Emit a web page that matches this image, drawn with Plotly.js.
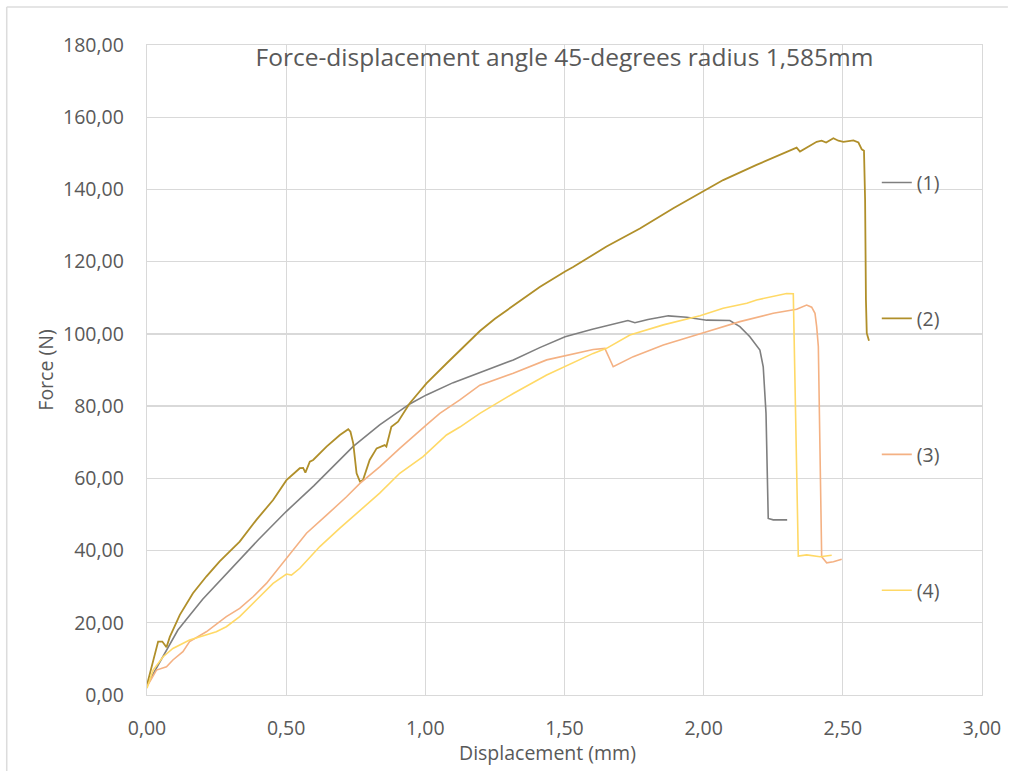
<!DOCTYPE html>
<html>
<head>
<meta charset="utf-8">
<script src="https://cdn.plot.ly/plotly-3.0.1.min.js"></script>
<style>html,body{margin:0;padding:0;background:#fff;}#chart{width:1009px;height:771px;}</style>
</head>
<body>
<div id="chart"></div>
<script>
// ---- data ----
const seriesNames = ["(1)", "(2)", "(3)", "(4)"];

const x1 = [0, 0.05, 0.111, 0.2, 0.3, 0.4, 0.5, 0.6, 0.74, 0.836, 0.944, 1.004, 1.1, 1.196, 1.316, 1.411, 1.502, 1.6, 1.728, 1.753, 1.8, 1.873, 1.939, 2.011, 2.094, 2.13, 2.166, 2.202, 2.214, 2.224, 2.229, 2.232, 2.25, 2.30];
const y1 = [2.8, 9.6, 18.0, 26.5, 34.8, 43.0, 50.8, 58.0, 68.8, 74.8, 80.6, 83.1, 86.5, 89.3, 92.8, 96.2, 99.2, 101.3, 103.7, 103.1, 104.0, 105.0, 104.6, 103.8, 103.7, 102.0, 99.2, 95.5, 90.9, 78.0, 59.5, 48.9, 48.5, 48.5];

const x2 = [0, 0.04, 0.055, 0.07, 0.082, 0.118, 0.165, 0.213, 0.261, 0.333, 0.393, 0.453, 0.501, 0.549, 0.561, 0.569, 0.585, 0.597, 0.645, 0.693, 0.723, 0.731, 0.741, 0.753, 0.765, 0.776, 0.8, 0.825, 0.854, 0.86, 0.878, 0.902, 0.944, 1.004, 1.076, 1.14, 1.196, 1.25, 1.316, 1.411, 1.502, 1.531, 1.651, 1.771, 1.891, 1.999, 2.07, 2.19, 2.334, 2.346, 2.406, 2.424, 2.44, 2.466, 2.484, 2.502, 2.538, 2.556, 2.568, 2.576, 2.58, 2.583, 2.586, 2.594];
const y2 = [2.8, 14.8, 14.8, 13.2, 16.1, 22.2, 28.2, 32.8, 37.0, 42.5, 48.5, 54.0, 59.5, 62.8, 62.9, 61.6, 64.6, 65.1, 68.8, 72.0, 73.6, 72.9, 69.7, 61.4, 59.1, 59.5, 65.1, 68.3, 69.2, 68.8, 74.3, 75.7, 80.8, 86.3, 91.8, 96.6, 100.8, 104.2, 107.9, 113.0, 117.3, 118.5, 124.2, 129.2, 134.8, 139.4, 142.6, 146.8, 151.6, 150.5, 153.2, 153.5, 153.0, 154.2, 153.5, 153.2, 153.6, 153.0, 151.1, 150.7, 137.1, 109.4, 100.2, 98.1];

const x3 = [0, 0.034, 0.07, 0.093, 0.129, 0.153, 0.213, 0.285, 0.333, 0.381, 0.429, 0.501, 0.573, 0.645, 0.717, 0.765, 0.836, 0.908, 0.968, 1.004, 1.052, 1.124, 1.196, 1.316, 1.436, 1.502, 1.603, 1.645, 1.663, 1.675, 1.747, 1.855, 2.011, 2.13, 2.25, 2.334, 2.37, 2.388, 2.4, 2.406, 2.412, 2.418, 2.424, 2.442, 2.466, 2.496];
const y3 = [2.3, 6.9, 7.8, 9.7, 12.0, 14.8, 17.5, 21.7, 24.0, 27.2, 30.9, 38.0, 44.8, 49.8, 54.9, 58.6, 63.2, 68.3, 72.5, 74.8, 78.0, 81.7, 85.8, 89.1, 92.8, 93.9, 95.7, 96.0, 92.8, 90.9, 93.7, 96.9, 100.6, 103.4, 105.7, 106.8, 108.0, 107.4, 105.7, 102.0, 96.5, 59.5, 38.3, 36.6, 36.9, 37.6];

const x4 = [0, 0.022, 0.058, 0.093, 0.153, 0.213, 0.249, 0.285, 0.333, 0.393, 0.453, 0.501, 0.519, 0.549, 0.621, 0.693, 0.765, 0.836, 0.908, 0.992, 1.076, 1.124, 1.196, 1.316, 1.436, 1.502, 1.603, 1.651, 1.735, 1.855, 1.987, 2.07, 2.155, 2.19, 2.274, 2.298, 2.322, 2.328, 2.334, 2.34, 2.37, 2.418, 2.46];
const y4 = [1.9, 6.9, 10.6, 12.9, 15.2, 16.6, 17.5, 18.9, 21.7, 26.3, 30.9, 33.5, 33.2, 35.1, 41.1, 46.2, 51.2, 55.9, 61.4, 66.0, 72.0, 74.2, 78.0, 83.5, 88.6, 90.9, 94.6, 96.0, 99.7, 102.5, 105.0, 107.1, 108.5, 109.4, 110.8, 111.2, 111.1, 87.2, 59.5, 38.5, 38.8, 38.3, 38.7];

const colors = ["#7f7f7f", "#b08f2a", "#f4b183", "#ffd966"];
const widths = [1.6, 1.8, 1.6, 1.6];

const xs = [x1, x2, x3, x4];
const ys = [y1, y2, y3, y4];

const traces = xs.map((xv, i) => ({
  type: "scatter",
  mode: "lines",
  x: xv,
  y: ys[i],
  name: seriesNames[i],
  legendgroup: "g" + i,
  line: { color: colors[i], width: widths[i] },
  hoverinfo: "skip"
}));

const FONT = "Open Sans, Noto Sans, sans-serif";
const GRID = "#d9d9d9";
const TXT = "#595959";

const layout = {
  width: 1009,
  height: 771,
  margin: { l: 147, r: 27, t: 45, b: 76, pad: 0 },
  paper_bgcolor: "#ffffff",
  plot_bgcolor: "#ffffff",
  separators: ", ",
  font: { family: FONT, color: TXT, size: 19.5 },
  title: {
    text: "Force-displacement angle 45-degrees radius 1,585mm",
    font: { family: FONT, size: 24.5, color: TXT },
    x: 0.5, xref: "paper", xanchor: "center",
    y: 0.981, yref: "paper", yanchor: "middle"
  },
  xaxis: {
    range: [0, 3],
    dtick: 0.5,
    tick0: 0,
    tickformat: ".2f",
    ticks: "",
    ticklabelstandoff: 15,
    showgrid: true,
    gridcolor: GRID,
    gridwidth: 1.3,
    zeroline: false,
    showline: true,
    linecolor: GRID,
    linewidth: 1.3,
    mirror: true,
    tickfont: { family: FONT, size: 19.5, color: TXT }
  },
  yaxis: {
    range: [0, 180],
    dtick: 20,
    tick0: 0,
    tickformat: ".2f",
    ticks: "",
    ticklabelstandoff: 18,
    showgrid: true,
    gridcolor: GRID,
    gridwidth: 1.3,
    zeroline: false,
    showline: true,
    linecolor: GRID,
    linewidth: 1.3,
    mirror: true,
    tickfont: { family: FONT, size: 19.5, color: TXT },
    title: { text: "Force (N)", font: { family: FONT, size: 19.5, color: TXT }, standoff: 4 }
  },
  annotations: [
    {
      text: "Displacement (mm)",
      xref: "paper", yref: "paper",
      x: 0.480, y: -0.0877,
      xanchor: "center", yanchor: "middle",
      showarrow: false,
      font: { family: FONT, size: 19.5, color: TXT }
    }
  ],
  showlegend: true,
  legend: {
    x: 0.874, xanchor: "left",
    y: 0.818, yanchor: "top",
    bgcolor: "rgba(0,0,0,0)",
    borderwidth: 0,
    tracegroupgap: 107.6,
    itemwidth: 30,
    font: { family: FONT, size: 19.5, color: TXT }
  },
  shapes: [
    { type: "line", xref: "paper", yref: "paper", x0: -0.168, x1: 1.031, y0: 1.0585, y1: 1.0585, line: { color: "#dcdcdc", width: 1.5 } },
    { type: "line", xref: "paper", yref: "paper", x0: -0.168, x1: -0.168, y0: 1.0585, y1: -0.12, line: { color: "#dcdcdc", width: 1.5 } }
  ]
};

Plotly.newPlot("chart", traces, layout, { staticPlot: true, displayModeBar: false });
</script>
</body>
</html>
